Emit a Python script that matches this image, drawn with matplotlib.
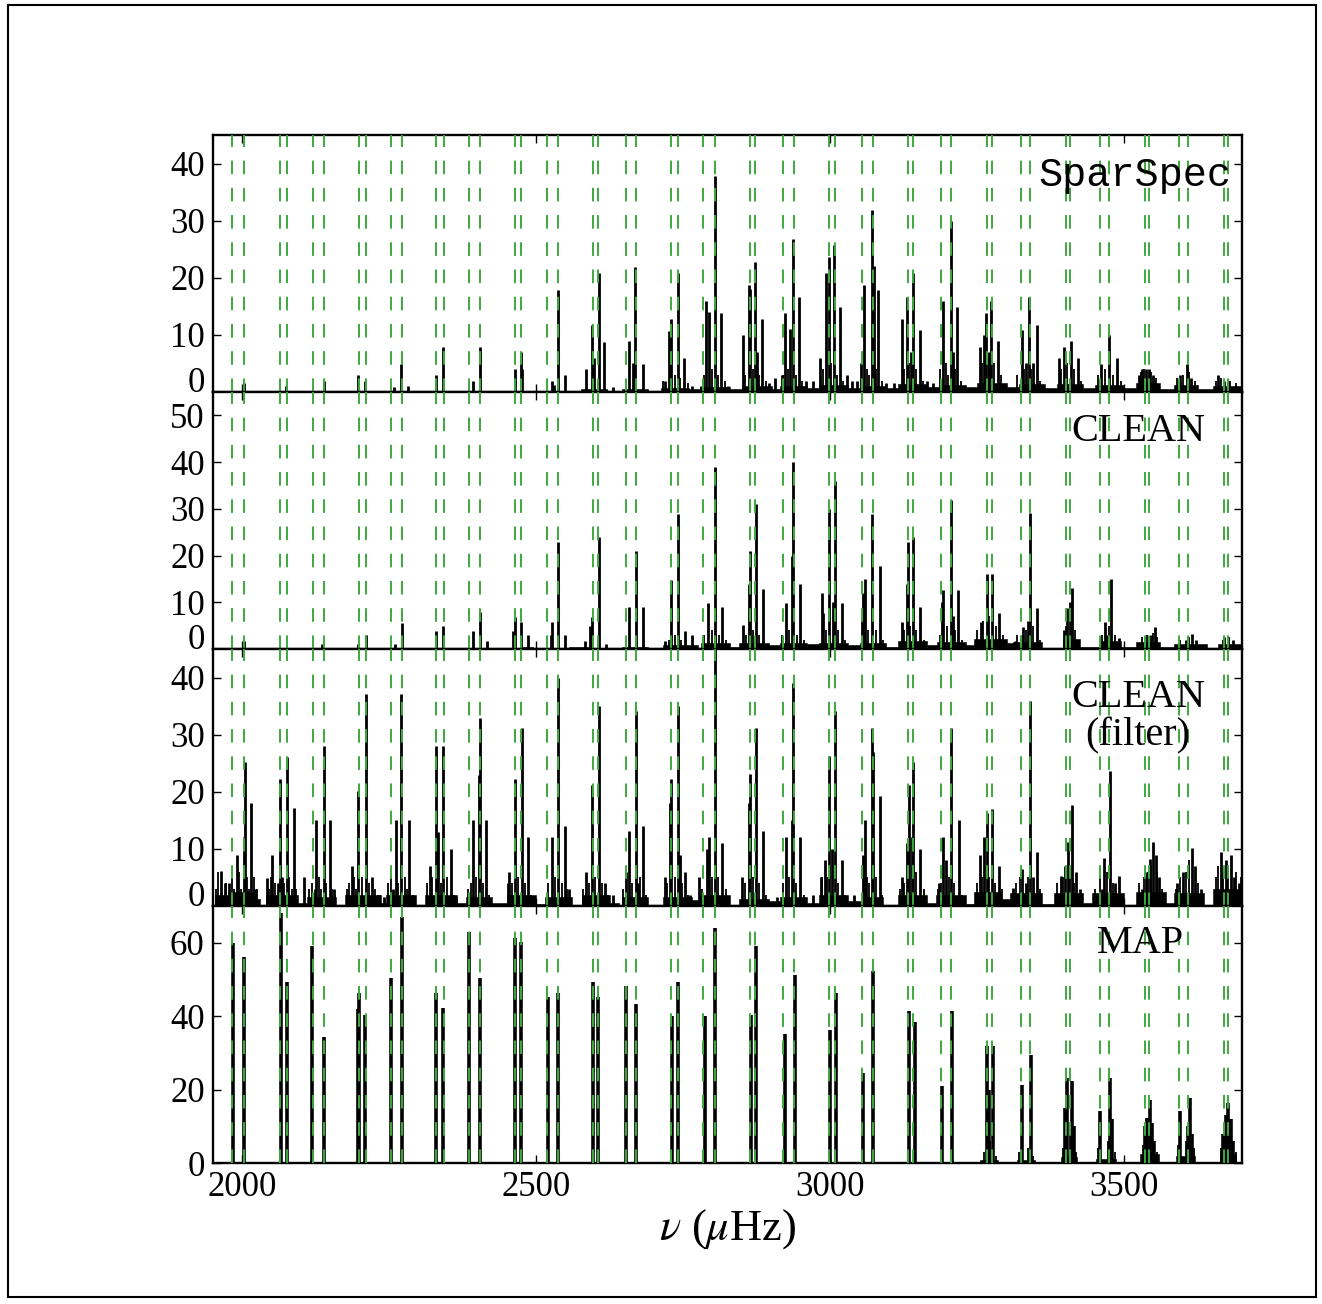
import matplotlib
matplotlib.use("Agg")
import matplotlib.pyplot as plt
from matplotlib.patches import Rectangle

plt.rcParams['font.family'] = ['Liberation Serif', 'DejaVu Serif']
plt.rcParams['mathtext.fontset'] = 'stix'

# ---------------- data ----------------
mode_freqs = [1983, 2003, 2064, 2075, 2120, 2138, 2198, 2210, 2253, 2271,
              2330, 2343, 2386, 2404, 2463, 2474, 2518, 2537, 2597, 2605,
              2652, 2670, 2729, 2740, 2784, 2804, 2863, 2872, 2919, 2938,
              2997, 3007, 3053, 3072, 3132, 3141, 3188, 3205, 3267, 3274,
              3324, 3339, 3401, 3408, 3458, 3473, 3535, 3542, 3593, 3608,
              3670, 3677]

# SparSpec
sp_freq = [2003, 2074, 2138, 2197, 2209, 2258, 2270, 2281, 2330, 2342,
           2392, 2404, 2463, 2474, 2476, 2526, 2530, 2537, 2549, 2585,
           2595, 2598, 2606, 2615, 2630, 2657, 2665, 2668, 2681, 2718,
           2726, 2729, 2740, 2751, 2765, 2780, 2789, 2793, 2804, 2814,
           2825, 2851, 2861, 2864, 2872, 2875, 2884, 2895, 2905, 2917,
           2923, 2932, 2936, 2947, 2958, 2970, 2983, 2993, 2997, 3006,
           3016, 3028, 3036, 3045, 3052, 3057, 3071, 3074, 3081, 3095,
           3108, 3121, 3130, 3137, 3141, 3152, 3165, 3175, 3191, 3205,
           3208, 3216, 3254, 3262, 3265, 3269, 3273, 3285, 3326, 3332,
           3338, 3344, 3351, 3389, 3397, 3409, 3421, 3461, 3473, 3487,
           3525, 3530, 3537, 3542, 3548, 3595, 3606, 3614, 3660, 3670,
           3676]
sp_pow = [1.5, 1.0, 1.9, 2.9, 1.9, 0.8, 4.9, 1.0, 2.9, 7.9,
          1.9, 7.9, 4.0, 7.0, 4.0, 1.9, 1.2, 17.8, 2.9, 4.0,
          11.7, 6.0, 20.8, 8.8, 0.9, 9.0, 5.0, 21.8, 4.9, 1.9,
          10.7, 12.8, 20.8, 5.9, 1.0, 1.0, 15.9, 14.0, 37.8, 13.8,
          1.0, 10.0, 18.8, 18.0, 22.7, 7.0, 12.8, 1.5, 2.5, 3.0,
          13.8, 11.0, 26.8, 16.7, 2.0, 2.0, 5.9, 20.8, 23.7, 25.8,
          14.8, 3.0, 2.0, 2.0, 5.0, 18.8, 31.8, 22.0, 17.8, 1.5,
          1.5, 12.8, 16.7, 7.0, 20.8, 10.9, 2.0, 1.5, 15.9, 29.9,
          7.0, 14.8, 7.9, 10.0, 13.8, 7.0, 15.9, 9.0, 10.9, 5.0,
          16.7, 5.0, 11.7, 5.9, 7.9, 9.0, 5.9, 4.9, 10.0, 5.9,
          3.0, 4.0, 4.0, 4.0, 3.0, 3.0, 4.9, 2.5, 2.9, 2.0,
          2.0]
sp_grass_freq = [2715, 2735, 2745, 2758, 2785, 2798, 2808, 2820, 2855, 2868,
                 2879, 2890, 2920, 2928, 2942, 2952, 2987, 3001, 3011, 3022,
                 3062, 3066, 3077, 3087, 3125, 3134, 3146, 3158, 3187, 3196,
                 3200, 3212, 3222, 3258, 3270, 3278, 3290, 3318, 3330, 3342,
                 3357, 3392, 3403, 3414, 3426, 3455, 3467, 3480, 3494, 3528,
                 3534, 3545, 3553, 3590, 3600, 3610, 3620, 3655, 3665, 3680,
                 3690]
sp_grass_pow = [2.0, 3.0, 2.5, 1.5, 3.0, 4.0, 3.0, 2.0, 3.0, 4.0,
                3.0, 2.0, 3.0, 4.0, 3.0, 2.0, 4.0, 5.0, 3.0, 2.0,
                4.0, 3.0, 4.0, 2.0, 4.0, 5.0, 4.0, 2.0, 4.0, 5.0,
                3.0, 4.0, 2.0, 5.0, 6.0, 5.0, 3.0, 3.0, 4.0, 4.0,
                2.0, 4.0, 5.0, 4.0, 2.0, 3.0, 4.0, 3.0, 2.0, 3.5,
                4.0, 3.5, 2.5, 2.5, 3.0, 3.5, 2.0, 2.0, 2.5, 2.0,
                1.5]
sp_floor_start = [2575, 2645, 2712, 2760, 2780, 2830, 2850, 2900, 2915, 2960,
                  2980, 3030, 3050, 3095, 3115, 3165, 3185, 3230, 3250, 3300,
                  3320, 3365, 3385, 3430, 3450, 3500, 3520, 3560, 3585, 3625,
                  3650]
sp_floor_end = [2620, 2690, 2760, 2780, 2830, 2850, 2900, 2915, 2960, 2980,
                3030, 3050, 3095, 3115, 3165, 3185, 3230, 3250, 3300, 3320,
                3365, 3385, 3430, 3450, 3500, 3520, 3560, 3585, 3625, 3650,
                3700]
sp_floor_level = [0.5, 0.5, 0.7, 0.5, 0.9, 0.5, 1.0, 0.6, 1.0, 0.7,
                  1.2, 0.7, 1.1, 0.7, 1.4, 0.8, 1.2, 0.8, 1.5, 0.9,
                  1.4, 0.7, 1.4, 0.7, 1.3, 0.7, 1.6, 0.6, 1.2, 0.5,
                  1.1]

# CLEAN
cl_freq = [2002, 2136, 2196, 2210, 2259, 2271, 2330, 2342, 2392, 2404,
           2416, 2461, 2463, 2474, 2486, 2524, 2526, 2537, 2549, 2583,
           2591, 2594, 2606, 2619, 2658, 2669, 2682, 2719, 2729, 2740,
           2753, 2764, 2792, 2804, 2816, 2852, 2861, 2864, 2873, 2886,
           2924, 2935, 2937, 2949, 2986, 2988, 2998, 3004, 3008, 3019,
           3053, 3056, 3059, 3071, 3084, 3121, 3130, 3132, 3141, 3153,
           3190, 3192, 3205, 3208, 3217, 3256, 3266, 3275, 3287, 3314,
           3326, 3328, 3336, 3340, 3352, 3398, 3403, 3407, 3411, 3421,
           3467, 3470, 3478, 3491, 3545, 3552, 3605, 3615, 3622, 3670,
           3685]
cl_pow = [1.7, 1.0, 1.0, 2.9, 1.0, 5.6, 3.9, 4.9, 3.9, 7.9,
          1.7, 3.9, 6.9, 5.8, 2.9, 3.0, 5.8, 22.8, 2.9, 1.7,
          5.0, 6.9, 23.9, 1.0, 8.9, 20.9, 8.9, 1.7, 14.8, 28.8,
          3.9, 2.9, 9.9, 39.0, 8.9, 5.1, 14.0, 20.9, 31.0, 12.8,
          9.9, 20.0, 40.0, 13.9, 12.0, 7.8, 29.9, 10.0, 36.0, 9.8,
          6.0, 12.0, 14.9, 28.8, 17.8, 5.8, 14.0, 22.8, 23.9, 8.9,
          10.0, 12.6, 31.8, 7.0, 12.6, 5.8, 16.0, 16.0, 7.8, 1.8,
          3.0, 4.8, 6.0, 29.2, 8.8, 4.0, 8.8, 10.0, 13.0, 2.0,
          5.8, 3.0, 15.0, 2.4, 3.0, 4.8, 2.0, 3.2, 2.0, 2.5,
          2.0]
cl_grass_freq = [2725, 2735, 2746, 2785, 2798, 2810, 2822, 2857, 2868, 2879,
                 2918, 2930, 2943, 2955, 2992, 3013, 3025, 3064, 3077, 3090,
                 3125, 3136, 3146, 3160, 3186, 3198, 3212, 3224, 3250, 3260,
                 3270, 3281, 3293, 3318, 3332, 3345, 3357, 3400, 3416, 3462,
                 3473, 3484, 3530, 3538, 3548, 3556, 3595, 3610, 3668, 3678]
cl_grass_pow = [2.0, 3.0, 2.0, 3.0, 4.0, 3.0, 2.0, 3.0, 4.0, 3.0,
                3.0, 4.0, 3.0, 2.0, 4.0, 4.0, 2.0, 4.0, 4.0, 2.0,
                4.0, 5.0, 4.0, 2.0, 3.0, 5.0, 4.0, 2.0, 4.0, 6.0,
                7.0, 5.0, 3.0, 3.0, 4.0, 5.0, 2.0, 5.0, 4.0, 3.0,
                5.0, 3.0, 2.5, 3.0, 3.5, 2.5, 2.0, 2.5, 2.0, 2.5]
cl_floor_start = [2478, 2555, 2645, 2715, 2780, 2830, 2845, 2895, 2915, 2960,
                  2980, 3030, 3050, 3095, 3115, 3165, 3182, 3230, 3245, 3300,
                  3310, 3360, 3395, 3425, 3460, 3495, 3520, 3560, 3585, 3640,
                  3660]
cl_floor_end = [2495, 2590, 2690, 2775, 2830, 2845, 2895, 2915, 2960, 2980,
                3030, 3050, 3095, 3115, 3165, 3182, 3230, 3245, 3300, 3310,
                3360, 3395, 3425, 3460, 3495, 3520, 3560, 3585, 3640, 3660,
                3700]
cl_floor_level = [0.4, 0.4, 0.5, 0.8, 1.2, 0.4, 1.2, 0.8, 1.2, 1.0,
                  1.2, 0.8, 1.2, 0.5, 1.8, 0.8, 1.5, 0.8, 2.2, 1.2,
                  1.5, 0.3, 2.2, 0.5, 1.8, 0.5, 1.6, 0.5, 1.0, 0.2,
                  1.0]

# CLEAN (filter)
cf_freq = [1963, 1970, 1978, 1991, 2002, 2004, 2015, 2021, 2041, 2051,
           2060, 2064, 2068, 2075, 2088, 2104, 2124, 2126, 2138, 2149,
           2155, 2186, 2197, 2210, 2221, 2233, 2240, 2256, 2261, 2270,
           2284, 2319, 2330, 2332, 2342, 2355, 2364, 2392, 2403, 2404,
           2415, 2452, 2454, 2464, 2475, 2486, 2495, 2526, 2537, 2549,
           2555, 2585, 2595, 2606, 2617, 2630, 2653, 2658, 2669, 2672,
           2682, 2719, 2727, 2729, 2740, 2744, 2753, 2762, 2776, 2790,
           2793, 2804, 2815, 2850, 2862, 2864, 2873, 2886, 2910, 2924,
           2934, 2937, 2949, 2970, 2984, 2990, 2998, 3003, 3008, 3019,
           3040, 3055, 3059, 3070, 3073, 3084, 3122, 3130, 3133, 3138,
           3141, 3153, 3185, 3192, 3197, 3205, 3218, 3254, 3262, 3266,
           3274, 3287, 3311, 3326, 3333, 3340, 3345, 3352, 3393, 3399,
           3404, 3411, 3418, 3425, 3455, 3462, 3465, 3476, 3484, 3491,
           3530, 3536, 3543, 3549, 3553, 3558, 3590, 3600, 3615, 3620,
           3630, 3664, 3672, 3681, 3686, 3695]
cf_pow = [6.1, 4.0, 4.0, 9.0, 12.0, 25.2, 18.1, 3.0, 4.9, 9.0,
          4.0, 22.2, 5.0, 26.1, 17.2, 5.0, 3.0, 15.0, 28.1, 15.0,
          3.0, 7.0, 20.1, 37.1, 5.0, 2.0, 1.5, 3.0, 15.0, 37.1,
          15.0, 7.0, 28.1, 13.0, 28.1, 10.0, 1.5, 15.0, 23.0, 33.0,
          15.0, 4.0, 6.0, 22.2, 31.1, 12.1, 1.5, 12.0, 40.0, 14.0,
          3.0, 6.0, 21.1, 35.1, 4.1, 2.0, 6.0, 13.1, 34.2, 4.0,
          14.0, 5.0, 18.0, 22.3, 35.1, 9.0, 6.0, 2.0, 5.0, 10.0,
          12.0, 47.0, 11.0, 5.0, 18.0, 23.1, 31.1, 13.1, 1.5, 12.0,
          15.0, 39.1, 12.0, 2.0, 5.0, 8.0, 26.2, 10.0, 34.2, 8.0,
          2.0, 9.0, 15.0, 31.1, 27.0, 19.2, 5.0, 11.0, 21.2, 12.0,
          25.2, 10.0, 4.0, 12.0, 8.0, 31.1, 15.0, 9.0, 12.0, 16.2,
          17.0, 7.0, 3.2, 6.4, 4.0, 35.9, 5.0, 9.5, 5.2, 7.0,
          11.2, 17.6, 6.0, 3.0, 2.0, 3.0, 8.4, 23.7, 4.0, 5.2,
          3.0, 6.0, 8.3, 11.2, 9.0, 5.0, 4.0, 6.0, 10.2, 7.0,
          3.0, 9.5, 8.0, 9.0, 5.0, 4.0]
cf_grass_freq = [1955, 1958, 1966, 1972, 1982, 1986, 1995, 1998, 2008, 2011,
                 2019, 2024, 2045, 2048, 2056, 2070, 2080, 2084, 2092, 2113,
                 2118, 2131, 2134, 2143, 2153, 2158, 2178, 2182, 2190, 2194,
                 2204, 2215, 2225, 2230, 2248, 2252, 2265, 2276, 2280, 2290,
                 2314, 2323, 2337, 2348, 2360, 2383, 2388, 2398, 2409, 2420,
                 2458, 2469, 2480, 2491, 2519, 2531, 2543, 2552, 2580, 2590,
                 2600, 2612, 2622, 2648, 2662, 2676, 2686, 2722, 2735, 2748,
                 2758, 2782, 2798, 2808, 2822, 2855, 2868, 2879, 2891, 2920,
                 2929, 2942, 2955, 2986, 2994, 3013, 3025, 3062, 3066, 3078,
                 3088, 3118, 3126, 3145, 3160, 3183, 3188, 3201, 3211, 3224,
                 3250, 3258, 3270, 3280, 3292, 3316, 3322, 3336, 3356, 3386,
                 3396, 3408, 3415, 3428, 3450, 3458, 3470, 3481, 3495, 3525,
                 3533, 3540, 3546, 3556, 3564, 3588, 3595, 3605, 3610, 3625,
                 3632, 3655, 3660, 3668, 3676, 3690, 3698]
cf_grass_pow = [3.0, 6.0, 2.5, 4.0, 5.0, 3.0, 6.0, 3.0, 5.0, 3.0,
                5.0, 3.0, 3.0, 5.0, 4.0, 4.0, 5.0, 3.0, 3.0, 3.0,
                4.0, 5.0, 3.0, 4.0, 3.0, 2.0, 3.0, 4.0, 5.0, 3.0,
                5.0, 4.0, 3.0, 2.0, 4.0, 5.0, 4.0, 5.0, 3.0, 2.0,
                4.0, 5.0, 4.0, 5.0, 2.0, 3.0, 4.0, 5.0, 4.0, 2.0,
                4.0, 5.0, 4.0, 2.0, 4.0, 5.0, 4.0, 3.0, 3.0, 4.0,
                5.0, 4.0, 2.0, 3.0, 4.0, 5.0, 2.0, 4.0, 5.0, 4.0,
                2.0, 3.0, 5.0, 5.0, 3.0, 4.0, 5.0, 4.0, 2.0, 4.0,
                5.0, 4.0, 2.0, 5.0, 5.0, 4.0, 2.0, 5.0, 4.0, 5.0,
                2.0, 3.0, 4.0, 6.0, 3.0, 3.0, 4.0, 5.0, 4.0, 2.0,
                4.0, 5.0, 5.0, 4.0, 3.0, 4.0, 5.0, 5.0, 3.0, 4.0,
                5.0, 5.0, 4.0, 2.0, 3.0, 5.0, 6.0, 4.0, 2.0, 4.0,
                5.0, 6.0, 7.0, 6.0, 3.0, 3.0, 5.0, 6.0, 8.0, 4.0,
                2.0, 5.0, 7.0, 6.0, 7.0, 6.0, 5.0]
cf_floor_start = [1953, 1975, 2020, 2040, 2095, 2110, 2175, 2235, 2245, 2310,
                  2365, 2380, 2425, 2450, 2500, 2515, 2578, 2625, 2645, 2715,
                  2765, 2778, 2845, 2895, 2915, 2960, 2980, 3030, 3055, 3115,
                  3165, 3180, 3230, 3245, 3290, 3305, 3360, 3380, 3430, 3445,
                  3520, 3570, 3585, 3650]
cf_floor_end = [1975, 2020, 2030, 2095, 2110, 2160, 2235, 2245, 2295, 2365,
                2380, 2425, 2450, 2500, 2515, 2560, 2625, 2640, 2690, 2765,
                2778, 2830, 2895, 2915, 2960, 2980, 3030, 3055, 3090, 3165,
                3180, 3230, 3245, 3290, 3305, 3360, 3380, 3430, 3445, 3500,
                3570, 3585, 3635, 3700]
cf_floor_level = [2.0, 2.5, 1.2, 2.0, 0.6, 1.6, 2.0, 0.6, 2.0, 2.0,
                  0.6, 1.6, 0.5, 2.0, 0.3, 1.6, 2.0, 0.6, 1.6, 1.6,
                  1.0, 2.0, 1.3, 0.8, 1.6, 0.5, 2.0, 0.8, 1.6, 2.0,
                  0.6, 2.0, 0.3, 2.5, 1.3, 2.2, 0.3, 2.2, 0.6, 2.2,
                  2.5, 0.6, 2.2, 3.0]

# MAP
mp_freq = [1984, 2002, 2065, 2075, 2119, 2138, 2196, 2198, 2209, 2253,
           2272, 2330, 2342, 2386, 2404, 2463, 2474, 2519, 2536, 2596,
           2605, 2653, 2670, 2731, 2740, 2787, 2804, 2865, 2874, 2922,
           2939, 2999, 3009, 3055, 3072, 3134, 3144, 3190, 3207, 3267,
           3270, 3277, 3325, 3341, 3399, 3403, 3411, 3414, 3459, 3476,
           3479, 3535, 3539, 3543, 3547, 3551, 3595, 3608, 3611, 3615,
           3668, 3673, 3677, 3681, 3685]
mp_pow = [60.0, 56.0, 68.0, 49.4, 59.1, 34.2, 42.0, 46.2, 40.3, 50.5,
          67.0, 46.2, 42.3, 63.0, 50.5, 61.2, 60.1, 45.3, 46.2, 49.4,
          45.3, 48.2, 43.3, 40.0, 49.4, 40.0, 64.1, 40.3, 59.1, 35.1,
          51.2, 36.1, 46.2, 24.4, 52.4, 41.4, 38.5, 21.1, 41.4, 32.0,
          20.0, 31.9, 21.3, 29.4, 15.0, 23.1, 22.3, 10.0, 14.2, 23.1,
          12.0, 10.0, 12.3, 17.2, 11.0, 6.0, 14.2, 10.0, 17.6, 8.0,
          8.0, 13.0, 16.3, 12.0, 6.0]
mp_grass_freq = [3262, 3272, 3282, 3320, 3336, 3345, 3396, 3407, 3418, 3455,
                 3472, 3484, 3531, 3537, 3545, 3555, 3591, 3604, 3619, 3664,
                 3671, 3679, 3689]
mp_grass_pow = [3.0, 6.0, 2.0, 3.0, 4.0, 2.0, 4.0, 8.0, 3.0, 4.0,
                6.0, 3.0, 5.0, 8.0, 9.0, 3.0, 5.0, 6.0, 4.0, 4.0,
                9.0, 10.0, 3.0]
mp_floor_start = [3255, 3318, 3392, 3452, 3527, 3588, 3662]
mp_floor_end = [3285, 3348, 3420, 3485, 3558, 3620, 3690]
mp_floor_level = [0.8, 0.8, 1.5, 1.2, 2.5, 2.0, 2.5]

panel_labels = ['SparSpec', 'CLEAN', 'CLEAN\n(filter)', 'MAP']
panel_ylims = [45, 55, 45, 70]
panel_yticks = [[0, 10, 20, 30, 40], [0, 10, 20, 30, 40, 50],
                [0, 10, 20, 30, 40], [0, 20, 40, 60]]
x_ticks = [2000, 2500, 3000, 3500]
x_range = (1950, 3700)

panels = [
    (sp_freq, sp_pow, sp_grass_freq, sp_grass_pow,
     sp_floor_start, sp_floor_end, sp_floor_level),
    (cl_freq, cl_pow, cl_grass_freq, cl_grass_pow,
     cl_floor_start, cl_floor_end, cl_floor_level),
    (cf_freq, cf_pow, cf_grass_freq, cf_grass_pow,
     cf_floor_start, cf_floor_end, cf_floor_level),
    (mp_freq, mp_pow, mp_grass_freq, mp_grass_pow,
     mp_floor_start, mp_floor_end, mp_floor_level),
]

# ---------------- figure ----------------
fig = plt.figure(figsize=(13.22, 13.04), dpi=100)
left, right = 213 / 1322, 1242 / 1322
top, bottom = 1 - 135 / 1304, 1 - 1163 / 1304
h = (top - bottom) / 4

label_pos = [(0.990, 0.845, 'right', 'Liberation Mono'),
             (0.899, 0.848, 'center', 'Liberation Serif'),
             (0.899, 0.736, 'center', 'Liberation Serif'),
             (0.901, 0.856, 'center', 'Liberation Serif')]
peak_lw = [2.0, 2.0, 2.0, 2.6]

axes = []
for i, (fq, pw, gq, gp, fs, fe, fl) in enumerate(panels):
    ax = fig.add_axes([left, top - (i + 1) * h, right - left, h])
    axes.append(ax)
    widths = [e - s for s, e in zip(fs, fe)]
    ax.bar(fs, fl, width=widths, align='edge', color='black',
           edgecolor='black', linewidth=0.4, zorder=2)
    ax.vlines(gq, 0, gp, color='black', linewidth=1.3, zorder=2)
    ax.vlines(fq, 0, pw, color='black', linewidth=peak_lw[i], zorder=2)
    for m in mode_freqs:
        ax.axvline(m, color='#3fa83f', linewidth=1.4,
                   linestyle=(0, (7.0, 7.0)), zorder=3)
    ax.set_xlim(*x_range)
    ax.set_ylim(0, panel_ylims[i])
    ax.set_xticks(x_ticks)
    ax.set_yticks(panel_yticks[i])
    labs = ax.set_yticklabels([str(t) for t in panel_yticks[i]])
    if i < 3:
        labs[0].set_va('baseline')
        ax.tick_params(axis='x', labelbottom=False)
    ax.tick_params(direction='in', top=True, right=True, length=6,
                   width=1.0, labelsize=25, pad=6)
    for s in ax.spines.values():
        s.set_linewidth(1.7)
    lx, ly, ha, fam = label_pos[i]
    ax.text(lx, ly, panel_labels[i], transform=ax.transAxes, ha=ha,
            va='center', fontsize=29, family=fam, linespacing=1.05,
            zorder=5)

axes[-1].set_xlabel(r'$\nu$ ($\mu$Hz)', fontsize=32, labelpad=2)

fig.patches.append(Rectangle((8 / 1322, 1 - 1297 / 1304),
                             1308 / 1322, 1292 / 1304,
                             transform=fig.transFigure, fill=False,
                             edgecolor='black', linewidth=1.5))

fig.savefig('out.png', dpi=100)
